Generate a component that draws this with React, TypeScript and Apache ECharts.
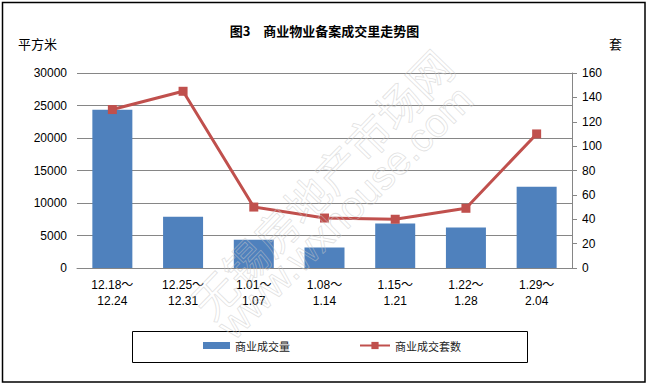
import React, { useEffect, useRef } from "react";
import * as echarts from "echarts";

const categories = [
  "12.18～\n12.24",
  "12.25～\n12.31",
  "1.01～\n1.07",
  "1.08～\n1.14",
  "1.15～\n1.21",
  "1.22～\n1.28",
  "1.29～\n2.04",
];
const areaValues = [24350, 7900, 4350, 3150, 6850, 6250, 12500];
const unitValues = [130, 145, 50, 41, 40, 49, 110];
const seriesNames = ["商业成交量", "商业成交套数"];
const titleText = "图3　商业物业备案成交里走势图";
const leftUnit = "平方米";
const rightUnit = "套";
const watermarkCn = "无锡房地产市场网";
const watermarkEn = "www.wxhouse.com";

const FONT = '"Liberation Sans", "Noto Sans CJK SC", sans-serif';
const CJK = '"Noto Sans CJK SC", sans-serif';

export default function App() {
  const ref = useRef<HTMLDivElement>(null);
  useEffect(() => {
    document.body.style.margin = "0";
    const chart = echarts.init(ref.current!, null, { renderer: "svg" });
    const wmStroke = "rgba(200,200,200,0.55)";
    chart.setOption({
      animation: false,
      backgroundColor: "#fff",
      textStyle: { fontFamily: FONT },
      title: {
        text: titleText,
        left: "center",
        top: 19,
        textStyle: { fontFamily: CJK, fontSize: 13, fontWeight: "bold", color: "#000" },
      },
      grid: { left: 77, right: 77, top: 73, bottom: 117 },
      legend: [
        {
          data: [seriesNames[0]],
          left: 203,
          top: 340,
          padding: 0,
          itemWidth: 27,
          itemHeight: 7,
          icon: "rect",
          textStyle: { fontFamily: CJK, fontSize: 11, color: "#222" },
        },
        {
          data: [seriesNames[1]],
          left: 359,
          top: 340,
          padding: 0,
          itemWidth: 30,
          itemHeight: 9,
          textStyle: { fontFamily: CJK, fontSize: 11, color: "#222" },
        },
      ],
      xAxis: {
        type: "category",
        data: categories,
        axisLine: { lineStyle: { color: "#868686", width: 1 } },
        axisTick: { show: false },
        axisLabel: { color: "#000", fontSize: 12, lineHeight: 16, margin: 9, interval: 0 },
      },
      yAxis: [
        {
          type: "value",
          min: 0,
          max: 30000,
          interval: 5000,
          axisLine: { show: false },
          axisTick: { show: false },
          axisLabel: { color: "#000", fontSize: 12, margin: 10, formatter: (v: number) => String(v) },
          splitLine: { lineStyle: { color: "#868686", width: 1 } },
        },
        {
          type: "value",
          min: 0,
          max: 160,
          interval: 20,
          position: "right",
          axisLine: { show: true, lineStyle: { color: "#868686", width: 1 } },
          axisTick: { show: true, length: 5, lineStyle: { color: "#868686" } },
          axisLabel: { color: "#000", fontSize: 12, margin: 10, formatter: (v: number) => String(v) },
          splitLine: { show: false },
        },
      ],
      series: [
        {
          name: seriesNames[0],
          type: "bar",
          data: areaValues,
          barWidth: 40,
          itemStyle: { color: "#4F81BD" },
        },
        {
          name: seriesNames[1],
          type: "line",
          yAxisIndex: 1,
          data: unitValues,
          symbol: "rect",
          symbolSize: 9,
          lineStyle: { color: "#C0504D", width: 3 },
          itemStyle: { color: "#C0504D" },
          z: 3,
        },
      ],
      graphic: [
        {
          type: "rect",
          shape: { x: 2.5, y: 2.5, width: 642.5, height: 379.5 },
          style: { fill: "rgba(0,0,0,0)", stroke: "#000", lineWidth: 1.5 },
          silent: true,
        },
        {
          type: "rect",
          shape: { x: 132.5, y: 331.5, width: 395, height: 31 },
          style: { fill: "rgba(0,0,0,0)", stroke: "#000", lineWidth: 1 },
          silent: true,
        },
        {
          type: "text",
          x: 18,
          y: 43,
          style: {
            text: leftUnit,
            fontFamily: CJK,
            fontSize: 13,
            fill: "#000",
            align: "left",
            verticalAlign: "middle",
          },
        },
        {
          type: "text",
          x: 609,
          y: 43,
          style: {
            text: rightUnit,
            fontFamily: CJK,
            fontSize: 13,
            fill: "#000",
            align: "left",
            verticalAlign: "middle",
          },
        },
        {
          type: "text",
          x: 321,
          y: 183,
          rotation: 0.8,
          z: 100,
          silent: true,
          style: {
            text: watermarkCn,
            fontFamily: CJK,
            fontSize: 44,
            fill: "rgba(255,255,255,0)",
            stroke: wmStroke,
            lineWidth: 0.8,
            align: "center",
            verticalAlign: "middle",
          },
        },
        {
          type: "text",
          x: 345,
          y: 212,
          rotation: 0.78,
          z: 100,
          silent: true,
          style: {
            text: watermarkEn,
            fontFamily: '"Liberation Sans", sans-serif',
            fontSize: 40,
            fill: "rgba(255,255,255,0)",
            stroke: wmStroke,
            lineWidth: 0.8,
            align: "center",
            verticalAlign: "middle",
          },
        },
      ],
    });
    return () => chart.dispose();
  }, []);
  return <div ref={ref} style={{ width: 649, height: 385 }} />;
}
